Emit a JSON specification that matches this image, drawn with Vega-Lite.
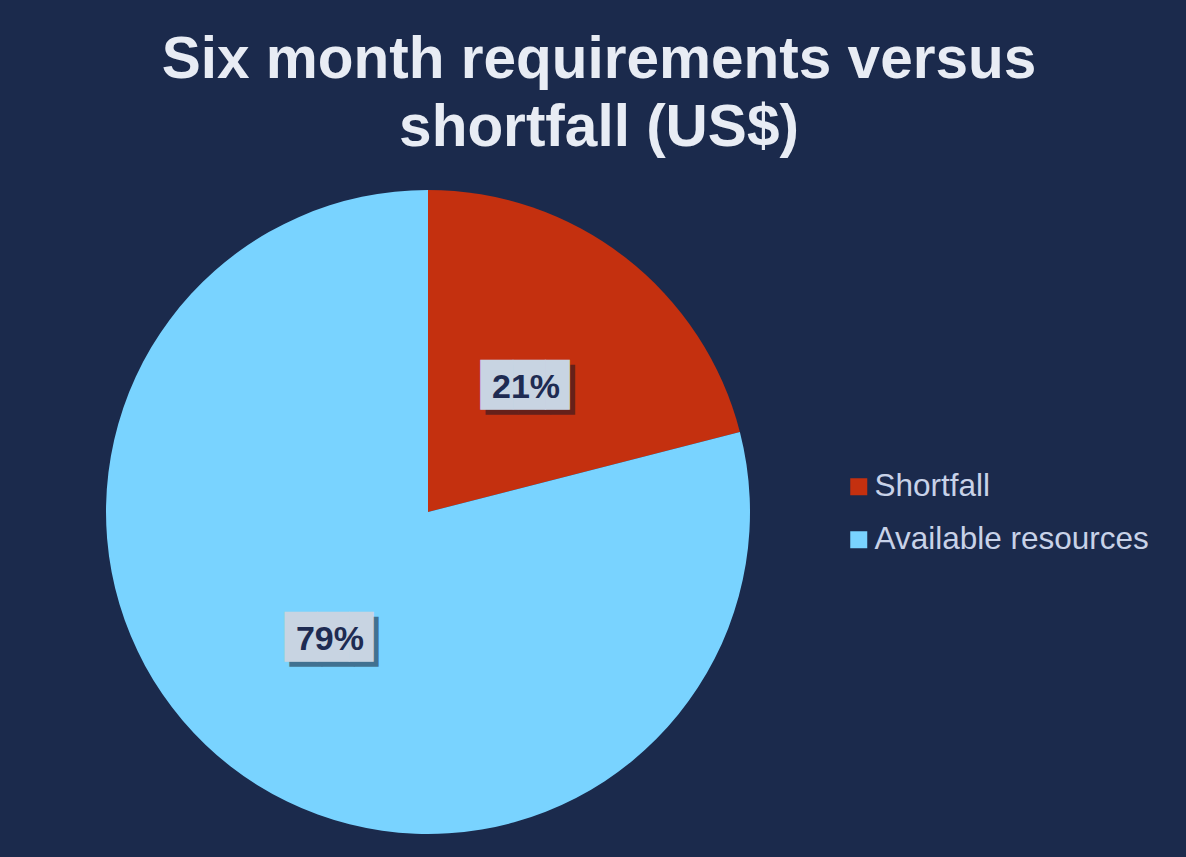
{
  "$schema": "https://vega.github.io/schema/vega-lite/v6.json",
  "autosize": "none",
  "width": 644,
  "height": 644,
  "padding": {"left": 106, "top": 190, "right": 436, "bottom": 23},
  "background": "#1B2A4C",
  "title": {
    "text": ["Six month requirements versus", "shortfall (US$)"],
    "font": "Liberation Sans",
    "fontSize": 58.5,
    "fontWeight": "bold",
    "color": "#E8ECF4",
    "anchor": "middle",
    "frame": "group",
    "dx": 171,
    "baseline": "alphabetic",
    "lineHeight": 68,
    "offset": -14
  },
  "data": {
    "values": [
      {"category": "Shortfall", "value": 21, "label": "21%"},
      {"category": "Available resources", "value": 79, "label": "79%"}
    ]
  },
  "encoding": {
    "theta": {"field": "value", "type": "quantitative", "stack": true},
    "order": {"field": "value", "type": "quantitative", "sort": "ascending"}
  },
  "layer": [
    {
      "mark": {"type": "arc", "stroke": null},
      "encoding": {
        "color": {
          "field": "category",
          "type": "nominal",
          "scale": {"domain": ["Shortfall", "Available resources"], "range": ["#C4300F", "#79D3FF"]},
          "legend": {
            "title": null,
            "orient": "none",
            "legendX": 737,
            "legendY": 281,
            "padding": 0,
            "symbolType": "square",
            "symbolSize": 289,
            "symbolStrokeWidth": 0,
            "labelFont": "Liberation Sans",
            "labelFontSize": 31.5,
            "labelColor": "#C8D2E8",
            "labelOffset": 0,
            "labelLimit": 400,
            "rowPadding": 20
          }
        }
      }
    },
    {
      "mark": {"type": "text", "radius": 160, "text": "██▊", "font": "DejaVu Sans", "fontSize": 42, "color": "#0B1226", "opacity": 0.5, "dx": 8, "dy": 5, "align": "center", "baseline": "middle"}
    },
    {
      "mark": {"type": "text", "radius": 160, "text": "██▊", "font": "DejaVu Sans", "fontSize": 42, "color": "#C8D4E2", "dx": 3, "align": "center", "baseline": "middle"}
    },
    {
      "mark": {"type": "text", "radius": 160, "font": "Liberation Sans", "fontSize": 34, "fontWeight": "bold", "color": "#1E2B52", "align": "center", "baseline": "middle", "dy": 2},
      "encoding": {"text": {"field": "label"}}
    }
  ],
  "config": {"view": {"stroke": null}}
}
